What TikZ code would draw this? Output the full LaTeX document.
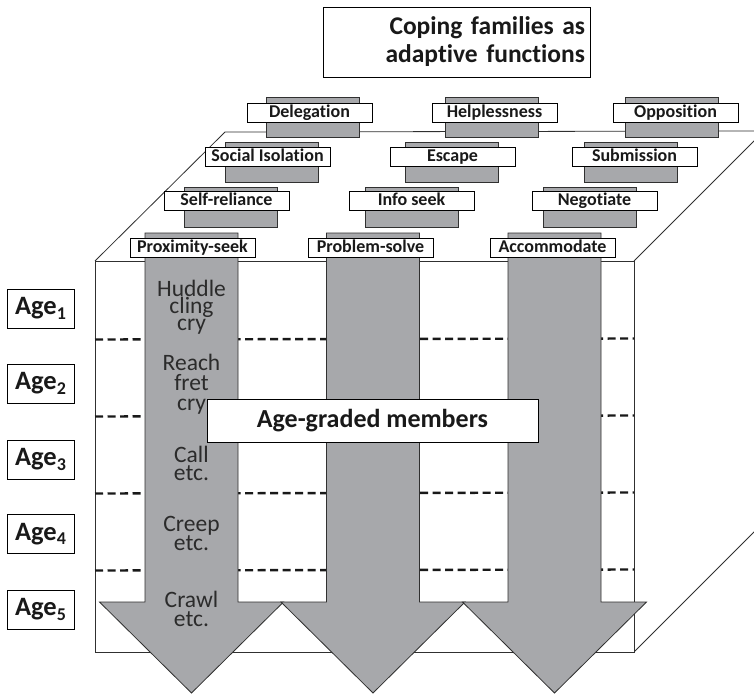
\documentclass[tikz,border=0pt]{standalone}
\usepackage{fontspec}
\setmainfont{Carlito}[Ligatures={NoCommon}]
\definecolor{arrgray}{HTML}{A7A8AB}
\definecolor{edge}{HTML}{303030}
\definecolor{txtgray}{HTML}{2B2B2B}
\begin{document}
\begin{tikzpicture}[x=1pt,y=-1pt,
  lbl/.style={draw=black, fill=white, line width=0.8pt, inner sep=0pt, minimum width=125pt, minimum height=19pt, text height=13pt, text depth=3.5pt, font=\fontsize{18}{19}\selectfont\bfseries, text=black!90},
  pillar/.style={draw=edge, fill=arrgray, line width=0.8pt},
  bigarrow/.style={draw=edge, fill=arrgray, line width=0.8pt},
  agebox/.style={draw=black, fill=white, line width=0.8pt, inner sep=0pt, minimum width=67pt, minimum height=39pt, font=\fontsize{26.5}{27}\selectfont\bfseries, text=black!90},
  arrtext/.style={text=txtgray, text width=90pt, align=center, inner sep=0pt},
  rowline/.style={dash pattern=on 8pt off 4.5pt, line width=2.4pt, draw=black!90},
  face/.style={draw=edge, line width=0.8pt}
]
\useasboundingbox (0,0) rectangle (754,695);
\clip (0,0) rectangle (754,695);
\fill[white] (0,0) rectangle (754,695);

% box corners
\coordinate (F1) at (95,261);
\coordinate (F2) at (634,261);
\coordinate (F3) at (634,652);
\coordinate (F4) at (95,652);
\coordinate (B1) at (225,132);
\coordinate (B2) at (764,131);
\coordinate (B3) at (764,522);

% top and right faces
\draw[face] (F1) -- (B1) -- (B2);
\draw[face] (F2) -- (B2) -- (B3) -- (F3);

% back rows: pillars and labels
\draw[pillar] (266.5,97) rectangle (359.5,137);
\draw[pillar] (445.5,97) rectangle (538.5,137);
\draw[pillar] (625,97) rectangle (718,137);
\node[lbl] (deleg) at (309.5,112.5) {Delegation};
\node[lbl] (helpl) at (494.5,112.5) {Helplessness};
\node[lbl] (oppos) at (675.5,112.5) {Opposition};

\draw[pillar] (225,142) rectangle (318,182);
\draw[pillar] (405,142) rectangle (498,182);
\draw[pillar] (584,142) rectangle (677,182);
\node[lbl] (socis) at (267.5,156.5) {Social Isolation};
\node[lbl] (escap) at (452.5,156.5) {Escape};
\node[lbl] (submi) at (634.5,156.5) {Submission};

\draw[pillar] (184,187) rectangle (277,227);
\draw[pillar] (365.5,187) rectangle (458.5,227);
\draw[pillar] (543,187) rectangle (636,227);
\node[lbl] (selfr) at (226.5,201) {Self-reliance};
\node[lbl] (infos) at (411.5,201) {Info seek};
\node[lbl] (negot) at (594.5,201) {Negotiate};

% front face
\draw[face, fill=white] (F1) rectangle (F3);

% age boundaries
\draw[rowline] (95,339.5) -- (634,338.5);
\draw[rowline] (95,416.5) -- (634,415.5);
\draw[rowline] (95,493.5) -- (634,492.5);
\draw[rowline] (95,570.5) -- (634,569.5);

% big arrows
\draw[bigarrow] (145,233) -- (238,233) -- (238,602) -- (283.5,602) -- (191.5,693) -- (99.5,602) -- (145,602) -- cycle;
\draw[bigarrow] (326.5,233) -- (419.5,233) -- (419.5,602) -- (465,602) -- (373,693) -- (281,602) -- (326.5,602) -- cycle;
\draw[bigarrow] (508,233) -- (601,233) -- (601,602) -- (646.5,602) -- (554.5,693) -- (462.5,602) -- (508,602) -- cycle;

% front row labels
\node[lbl] (proxi) at (192.5,247.5) {Proximity-seek};
\node[lbl] (probl) at (370.5,247.5) {Problem-solve};
\node[lbl] (accom) at (552.5,247.5) {Accommodate};

% age-graded members of proximity-seek
\node[arrtext, font={\fontsize{23.5}{17}\selectfont\lineskiplimit=-99pt\relax}] (m1) at (191.5,307.5) {Huddle\\cling\\cry};
\node[arrtext, font={\fontsize{23.5}{20}\selectfont\lineskiplimit=-99pt\relax}] (m2) at (191.5,384) {Reach\\fret\\cry};
\node[arrtext, font={\fontsize{23.5}{18}\selectfont\lineskiplimit=-99pt\relax}] (m3) at (191.5,463) {Call\\etc.};
\node[arrtext, font={\fontsize{23.5}{19}\selectfont\lineskiplimit=-99pt\relax}] (m4) at (191.5,533.5) {Creep\\etc.};
\node[arrtext, font={\fontsize{23.5}{19}\selectfont\lineskiplimit=-99pt\relax}] (m5) at (191.5,608.5) {Crawl\\etc.};

% central label
\node[draw=black, fill=white, line width=0.8pt, inner sep=0pt, minimum width=331pt, minimum height=43pt, font=\fontsize{26}{28}\selectfont\bfseries, text=black!90] (agm) at (372.5,420.5) {Age-graded members};

% age boxes
\node[agebox] (a1) at (40.5,308.5) {Age\raisebox{-4.5pt}{\fontsize{18}{18}\selectfont 1}};
\node[agebox] (a2) at (40.5,383.5) {Age\raisebox{-4.5pt}{\fontsize{18}{18}\selectfont 2}};
\node[agebox] (a3) at (40.5,459.5) {Age\raisebox{-4.5pt}{\fontsize{18}{18}\selectfont 3}};
\node[agebox] (a4) at (40.5,534) {Age\raisebox{-4.5pt}{\fontsize{18}{18}\selectfont 4}};
\node[agebox] (a5) at (40.5,609.5) {Age\raisebox{-4.5pt}{\fontsize{18}{18}\selectfont 5}};

% title
\node[draw=black, line width=0.8pt, inner xsep=5pt, inner ysep=0pt, text width=257pt, minimum height=70pt, align=right, font=\fontsize{25.5}{28}\selectfont\bfseries, text=black!90] (title) at (456.5,42) {Coping families as\\adaptive functions};
\end{tikzpicture}
\end{document}
